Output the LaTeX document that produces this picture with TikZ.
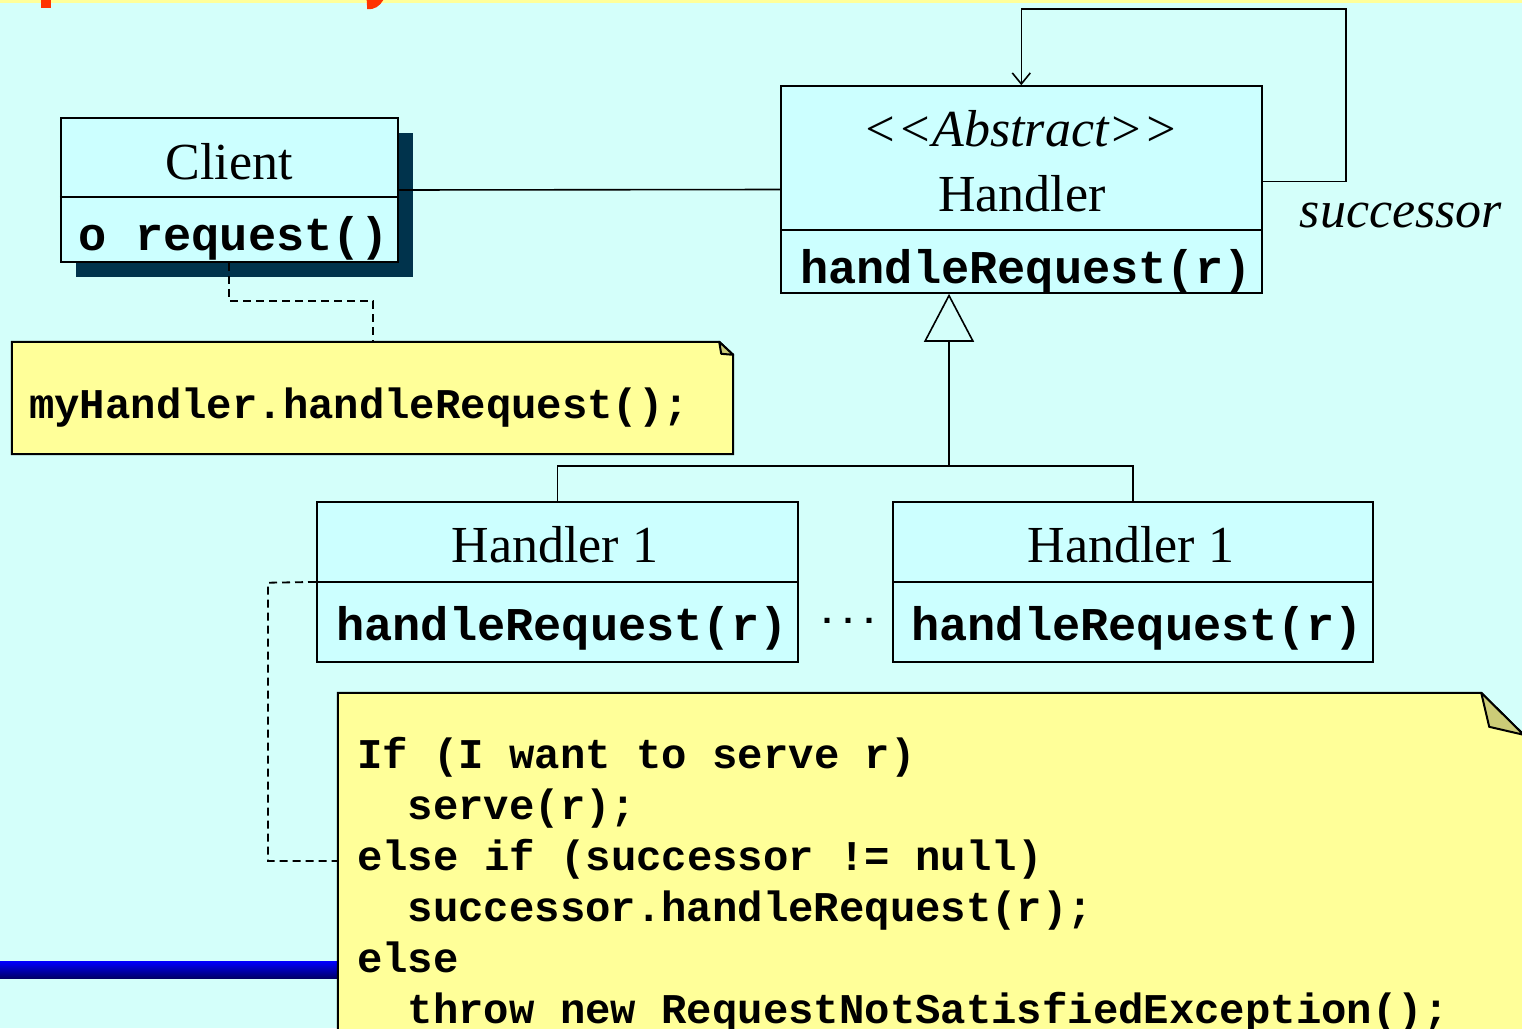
\documentclass[tikz,border=0pt]{standalone}
\usepackage{fontspec}
\setmainfont{Liberation Serif}
\newfontfamily\codefont{Liberation Mono}
\usetikzlibrary{arrows.meta,shadows}

\definecolor{pagebg}{RGB}{212,255,250}
\definecolor{boxfill}{RGB}{204,255,255}
\definecolor{shadowcol}{RGB}{0,51,76}
\definecolor{notefill}{RGB}{255,255,153}
\definecolor{foldfill}{RGB}{204,204,119}
\definecolor{titlered}{RGB}{255,51,0}
\definecolor{bandyellow}{RGB}{255,255,153}
\definecolor{barblue}{RGB}{0,0,255}
\definecolor{bardark}{RGB}{0,0,105}

\begin{document}
\begin{tikzpicture}[x=1pt,y=-1pt,
  classbox/.style={draw=black, fill=boxfill, line width=1.6pt, inner sep=0pt},
  serif/.style={font=\fontsize{52}{60}\selectfont, inner sep=0pt, anchor=base},
  serifit/.style={font=\fontsize{52}{60}\selectfont\itshape, inner sep=0pt, anchor=base},
  method/.style={font=\codefont\bfseries\fontsize{47}{54}\selectfont, inner sep=0pt, anchor=base},
  code/.style={font=\codefont\bfseries\fontsize{42.3}{51}\selectfont, inner sep=0pt, anchor=base west},
  link/.style={draw=black, line width=1.6pt},
  notelink/.style={draw=black, line width=1.8pt, dash pattern=on 8pt off 5pt},
  notebody/.style={draw=black, fill=notefill, line width=2pt, line join=miter},
  foldbody/.style={draw=black, fill=foldfill, line width=2pt, line join=round},
  ]

\clip (0,0) rectangle (1522,1028);
\fill[pagebg] (0,0) rectangle (1522,1028);
\fill[bandyellow] (0,0) rectangle (1522,3.3);

% descenders of the slide title at the top edge
\fill[titlered] (40.7,0) rectangle (51,8.4);
\fill[titlered] (366.7,0) -- (367.2,9.2) .. controls (374,10) and (380,6) .. (383.3,0) -- cycle;

% blue rule at the lower left
\shade[top color=barblue, bottom color=bardark] (0,961) rectangle (340,978);

% ---- Client class ----
\node[classbox, minimum width=337pt, minimum height=144pt,
      general shadow={fill=shadowcol, shadow xshift=15pt, shadow yshift=-15pt}]
      (client) at (229.2,190) {};
\draw[link] ([yshift=-80pt]client.north west) -- ([yshift=-80pt]client.north east);
\node[serif] (clientname) at (229,179) {Client};
\node[method] (clientop) at (234,250) {o request()};

% ---- abstract Handler ----
\node[classbox, minimum width=481pt, minimum height=207pt] (handler) at (1021.3,189.5) {};
\draw[link] ([yshift=-144.7pt]handler.north west) -- ([yshift=-144.7pt]handler.north east);
\node[serifit] (stereo) at (1020.5,146) {<\kern0pt<Abstract>\kern0pt>};
\node[serif] (handlername) at (1022,211) {Handler};
\node[method] (handlerop) at (1026,283) {handleRequest(r)};

% ---- concrete handlers ----
\node[classbox, minimum width=481pt, minimum height=160pt] (h1a) at (557.3,582) {};
\draw[link] ([yshift=-80.7pt]h1a.north west) -- ([yshift=-80.7pt]h1a.north east);
\node[serif] (h1aname) at (555,562) {Handler 1};
\node[method] (h1aop) at (562,640) {handleRequest(r)};

\node[classbox, minimum width=480pt, minimum height=160pt] (h1b) at (1133,582) {};
\draw[link] ([yshift=-80.7pt]h1b.north west) -- ([yshift=-80.7pt]h1b.north east);
\node[serif] (h1bname) at (1131,562) {Handler 1};
\node[method] (h1bop) at (1137,640) {handleRequest(r)};

\node[font=\codefont\bfseries\fontsize{35}{40}\selectfont, inner sep=0pt, anchor=base]
      (dots) at (848,623) {...};

% ---- associations ----
\draw[link] (client.east) -- (handler.west);
\coordinate (loopa) at (1346,181.5);
\coordinate (loopb) at (1346,9);
\coordinate (loopc) at (1021.3,9);
\draw[link, -{Straight Barb[length=11pt,width=18pt,line width=1.6pt]}]
      ([yshift=8pt]handler.east) -- (loopa) -- (loopb) -- (loopc) -- (handler.north);
\node[serifit] (succ) at (1401,227) {successor};

% ---- generalization ----
\coordinate (gentip) at ([xshift=-72.3pt]handler.south);
\coordinate (junc) at (949,466);
\draw[link, -{Triangle[open, length=48pt, width=50pt, line width=1.6pt]}] (junc) -- (gentip);
\draw[link] (h1a.north) |- (junc) -| (h1b.north);

% ---- note on Client ----
\node[minimum width=721pt, minimum height=112pt, inner sep=0pt] (note1) at (372.5,398) {};
\draw[notebody] (note1.north west) -- ([xshift=-14pt]note1.north east)
   -- ([yshift=-13pt]note1.north east) -- (note1.south east) -- (note1.south west) -- cycle;
\draw[foldbody] ([xshift=-14pt]note1.north east) -- ([xshift=-12pt,yshift=-12pt]note1.north east)
   -- ([yshift=-13pt]note1.north east) -- cycle;
\node[code] (note1text) at (29,418) {myHandler.handleRequest();};
\draw[notelink] (client.south) |- (373,301) -- (note1.north -| 373,0);

% ---- note on handleRequest ----
\node[minimum width=1185.5pt, minimum height=355pt, inner sep=0pt] (note2) at (930.75,870.5) {};
\draw[notebody] (note2.north west) -- ([xshift=-42.5pt]note2.north east)
   -- ([yshift=-42pt]note2.north east) -- (note2.south east) -- (note2.south west) -- cycle;
\draw[foldbody] ([xshift=-42.5pt]note2.north east) -- ([xshift=-34.5pt,yshift=-34pt]note2.north east)
   -- ([yshift=-42pt]note2.north east) -- cycle;
\node[code] (c1) at (357,768) {If (I want to serve r)};
\node[code] (c2) at (407.6,819) {serve(r);};
\node[code] (c3) at (357,870) {else if (successor != null)};
\node[code] (c4) at (407.6,921) {successor.handleRequest(r);};
\node[code] (c5) at (357,972) {else};
\node[code] (c6) at (407.6,1023) {throw new RequestNotSatisfiedException();};
\coordinate (h1div) at ([yshift=-80.7pt]h1a.north west);
\draw[notelink] (h1div) -- (268,582.7) -- (268,861) -- (note2.west |- 0,861);

\end{tikzpicture}
\end{document}
